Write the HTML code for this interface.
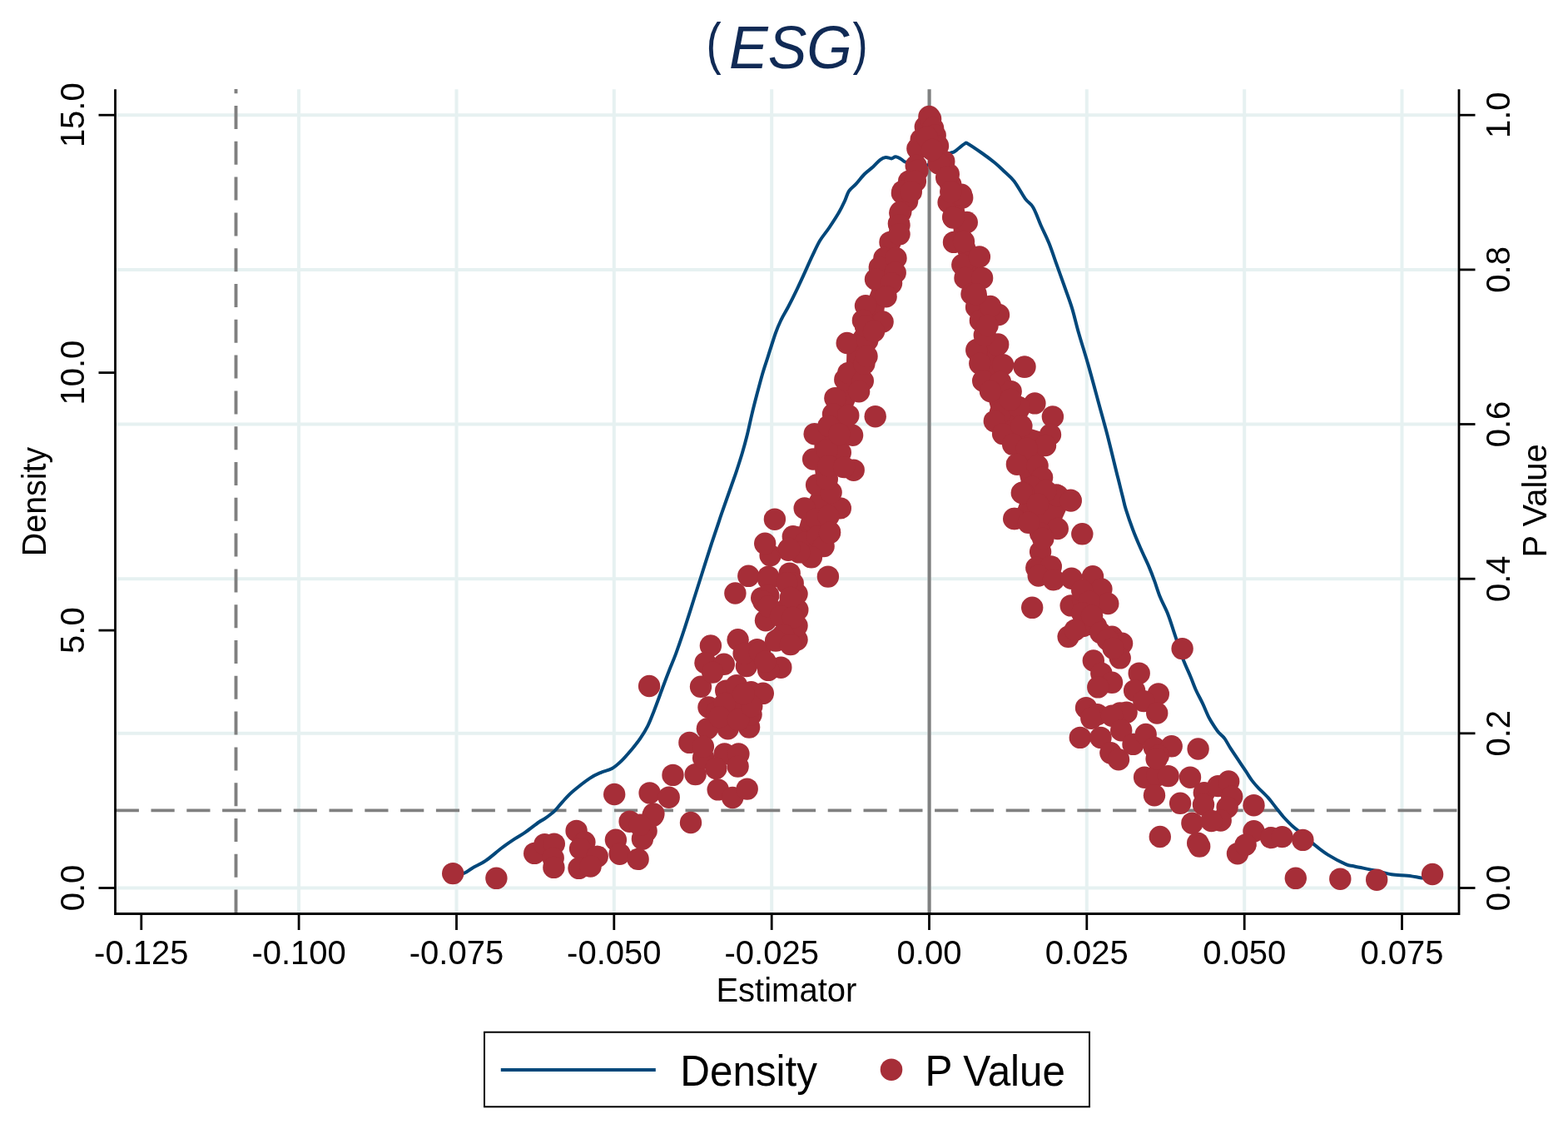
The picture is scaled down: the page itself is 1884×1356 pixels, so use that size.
<!DOCTYPE html>
<html><head><meta charset="utf-8"><title>ESG</title>
<style>html,body{margin:0;padding:0;background:#fff;}svg{display:block;}</style></head>
<body><svg width="1884" height="1356" viewBox="0 0 1884 1356">
<rect x="0" y="0" width="1884" height="1356" fill="#ffffff"/>
<g stroke="#e6f1f1" stroke-width="4"><line x1="140" y1="1066.5" x2="1751.5" y2="1066.5"/><line x1="140" y1="880.8" x2="1751.5" y2="880.8"/><line x1="140" y1="695.2" x2="1751.5" y2="695.2"/><line x1="140" y1="509.5" x2="1751.5" y2="509.5"/><line x1="140" y1="323.9" x2="1751.5" y2="323.9"/><line x1="140" y1="138.2" x2="1751.5" y2="138.2"/><line x1="359.1" y1="107.2" x2="359.1" y2="1096"/><line x1="548.5" y1="107.2" x2="548.5" y2="1096"/><line x1="737.8" y1="107.2" x2="737.8" y2="1096"/><line x1="927.2" y1="107.2" x2="927.2" y2="1096"/><line x1="1116.5" y1="107.2" x2="1116.5" y2="1096"/><line x1="1305.8" y1="107.2" x2="1305.8" y2="1096"/><line x1="1495.2" y1="107.2" x2="1495.2" y2="1096"/><line x1="1684.5" y1="107.2" x2="1684.5" y2="1096"/></g>
<line x1="283.5" y1="107.1" x2="283.5" y2="1096" stroke="#808080" stroke-width="3.9" stroke-dasharray="28 14.8" stroke-dashoffset="22.9"/>
<line x1="138.7" y1="973.4" x2="1752" y2="973.4" stroke="#808080" stroke-width="3.8" stroke-dasharray="28.2 14.6"/>
<line x1="1116.6" y1="107.2" x2="1116.6" y2="1096" stroke="#808080" stroke-width="4.1"/>
<path d="M544.0 1049.0 C546.2 1049.0 553.4 1049.9 557.4 1048.8 C561.4 1047.7 563.4 1044.9 567.8 1042.4 C572.2 1039.9 577.9 1037.7 583.7 1033.7 C589.5 1029.7 597.0 1022.9 602.8 1018.5 C608.6 1014.1 613.9 1010.6 618.7 1007.4 C623.5 1004.2 626.7 1002.7 631.5 999.4 C636.3 996.1 643.4 990.3 647.4 987.5 C651.4 984.7 652.2 985.0 655.4 982.7 C658.6 980.4 663.0 977.2 666.5 973.9 C670.0 970.6 672.4 966.8 676.1 962.8 C679.8 958.8 683.3 954.8 688.8 950.1 C694.3 945.4 703.3 938.3 708.9 934.6 C714.5 930.9 717.7 929.7 722.1 927.8 C726.5 925.9 731.2 925.4 735.4 923.0 C739.6 920.6 743.3 917.2 747.2 913.4 C751.1 909.6 755.3 904.6 759.0 900.2 C762.7 895.8 766.1 891.6 769.3 886.9 C772.5 882.2 775.5 877.5 778.2 872.1 C780.9 866.7 782.9 861.3 785.6 854.4 C788.3 847.5 791.5 838.7 794.4 830.8 C797.3 822.9 800.3 814.8 803.3 807.2 C806.2 799.6 808.8 794.1 812.1 785.1 C815.4 776.1 819.5 764.1 823.0 753.4 C826.5 742.7 829.9 731.8 833.3 721.0 C836.7 710.2 840.2 699.3 843.6 688.5 C847.0 677.7 850.7 665.9 853.9 656.1 C857.1 646.3 860.6 636.0 862.8 629.5 C865.0 623.0 864.3 624.6 866.9 617.1 C869.5 609.6 875.4 593.1 878.4 584.5 C881.4 575.9 882.9 572.0 885.1 565.3 C887.3 558.6 889.7 551.2 891.8 544.2 C893.9 537.2 895.7 530.8 897.6 523.1 C899.5 515.4 901.4 506.1 903.3 498.1 C905.2 490.1 907.0 483.1 909.1 475.1 C911.2 467.1 913.6 457.9 915.8 450.2 C918.0 442.5 919.8 437.5 922.5 429.1 C925.2 420.7 929.2 407.6 931.9 400.0 C934.6 392.4 936.2 389.1 938.7 383.8 C941.2 378.6 944.0 374.4 947.1 368.5 C950.2 362.6 953.9 355.2 957.3 348.1 C960.7 341.0 964.4 332.9 967.5 326.1 C970.6 319.3 973.0 313.6 976.0 307.4 C979.0 301.2 981.9 294.4 985.3 288.8 C988.7 283.2 992.5 279.2 996.3 273.5 C1000.1 267.8 1005.1 260.2 1008.2 254.8 C1011.3 249.4 1013.0 245.5 1015.0 241.3 C1017.0 237.1 1017.8 232.8 1020.1 229.4 C1022.4 226.0 1025.5 224.3 1028.6 220.9 C1031.7 217.5 1035.4 212.4 1038.8 209.0 C1042.2 205.6 1045.8 203.3 1048.9 200.5 C1052.0 197.7 1054.9 194.0 1057.4 192.1 C1060.0 190.2 1061.9 189.3 1064.2 189.0 C1066.5 188.7 1069.0 190.5 1071.0 190.4 C1073.0 190.3 1074.1 188.2 1076.1 188.3 C1078.1 188.4 1080.9 190.1 1082.9 191.2 C1084.9 192.2 1085.0 193.6 1088.0 194.6 C1091.0 195.6 1096.5 196.4 1101.0 197.0 C1105.5 197.6 1110.2 199.1 1114.7 198.1 C1119.2 197.1 1123.5 193.4 1128.0 191.0 C1132.5 188.6 1138.7 185.2 1141.9 183.7 C1145.1 182.2 1144.2 183.8 1147.0 182.0 C1149.8 180.2 1156.2 174.2 1158.9 172.7 C1161.6 171.1 1159.6 170.8 1163.1 172.7 C1166.6 174.6 1174.6 180.2 1180.0 184.0 C1185.4 187.8 1190.8 191.8 1195.3 195.5 C1199.8 199.2 1202.9 202.3 1206.8 206.0 C1210.7 209.7 1214.2 212.1 1218.4 217.5 C1222.6 222.9 1228.0 233.3 1231.8 238.6 C1235.6 243.9 1238.2 243.8 1241.4 249.2 C1244.6 254.6 1247.7 264.0 1250.9 271.2 C1254.1 278.4 1257.3 284.3 1260.5 292.3 C1263.7 300.3 1266.9 310.2 1270.1 319.2 C1273.3 328.1 1276.7 337.4 1279.7 346.0 C1282.7 354.6 1285.6 361.9 1288.3 370.9 C1291.0 379.9 1292.9 388.8 1296.1 400.0 C1299.3 411.2 1303.8 425.0 1307.6 438.4 C1311.4 451.8 1315.3 466.4 1319.1 480.5 C1322.9 494.6 1326.9 508.6 1330.6 522.7 C1334.2 536.8 1338.7 555.6 1341.0 565.0 C1343.3 574.4 1343.3 574.0 1344.6 579.2 C1345.9 584.5 1347.5 591.1 1348.9 596.5 C1350.3 601.9 1350.7 605.1 1352.8 611.8 C1354.9 618.5 1358.4 628.7 1361.4 636.7 C1364.4 644.7 1367.8 652.4 1371.0 659.8 C1374.2 667.2 1377.9 674.5 1380.6 680.9 C1383.3 687.3 1385.1 692.0 1387.3 698.1 C1389.5 704.2 1391.3 710.6 1394.0 717.3 C1396.7 724.0 1400.7 731.0 1403.6 738.4 C1406.5 745.8 1408.4 752.8 1411.3 761.4 C1414.2 770.0 1417.7 781.7 1420.9 790.2 C1424.1 798.7 1427.7 806.1 1430.4 812.5 C1433.1 818.9 1434.5 823.3 1436.9 828.7 C1439.3 834.1 1442.3 839.2 1445.0 844.9 C1447.7 850.6 1450.4 857.7 1453.1 862.8 C1455.8 867.9 1459.3 872.8 1461.2 875.7 C1463.1 878.6 1462.8 878.1 1464.5 880.0 C1466.2 881.9 1469.2 884.0 1471.5 887.1 C1473.8 890.2 1475.8 894.6 1478.6 898.9 C1481.4 903.2 1484.9 908.4 1488.1 913.1 C1491.2 917.8 1494.8 923.1 1497.5 927.2 C1500.2 931.3 1502.2 934.8 1504.6 937.9 C1507.0 941.0 1508.5 942.8 1511.7 946.1 C1514.9 949.4 1520.0 954.0 1523.5 957.9 C1527.0 961.8 1529.8 965.8 1532.9 969.7 C1536.1 973.6 1539.1 977.8 1542.4 981.5 C1545.8 985.2 1549.3 988.9 1553.0 992.2 C1556.7 995.6 1560.7 998.1 1564.8 1001.6 C1568.9 1005.1 1572.7 1009.2 1577.8 1013.4 C1582.9 1017.6 1588.9 1022.5 1595.5 1026.6 C1602.1 1030.7 1611.9 1035.8 1617.2 1038.1 C1622.5 1040.4 1621.5 1039.2 1627.4 1040.5 C1633.4 1041.8 1645.5 1044.1 1652.9 1045.7 C1660.3 1047.3 1665.6 1049.3 1672.0 1050.3 C1678.4 1051.3 1684.9 1051.1 1691.1 1051.8 C1697.2 1052.5 1705.9 1054.1 1708.9 1054.6" fill="none" stroke="#00477a" stroke-width="4" stroke-linejoin="round" stroke-linecap="round"/>
<g fill="#a62e38"><polygon points="1116.4,140.0 1111.8,152.3 1106.7,167.6 1102.4,178.6 1100.7,199.0 1092.2,217.7 1084.6,229.6 1082.3,254.2 1079.9,268.6 1069.5,290.9 1062.4,310.0 1056.8,321.1 1052.0,335.5 1040.0,367.3 1036.9,384.9 1017.7,412.0 1016.6,447.9 1003.1,468.6 1003.1,476.6 1001.5,497.3 979.2,521.2 977.6,551.5 981.2,581.8 966.4,610.4 958.5,639.1 996.5,639.1 1009.3,610.4 997.3,585.0 1010.1,543.5 1023.6,522.8 1020.4,498.9 1032.4,470.2 1037.2,457.5 1041.1,432.0 1041.5,427.9 1042.3,408.8 1060.6,386.5 1064.6,356.2 1071.0,340.3 1075.7,327.5 1076.5,310.0 1080.5,281.3 1080.5,270.2 1081.3,255.8 1090.1,241.5 1094.1,227.2 1099.9,217.7 1102.4,204.9 1110.0,185.0"/><polygon points="1116.4,140.0 1118.1,142.9 1121.1,154.0 1123.7,162.5 1127.0,175.2 1134.3,193.9 1139.8,209.2 1142.3,221.9 1155.1,233.8 1156.2,237.5 1161.8,267.0 1176.9,308.4 1180.1,333.9 1192.0,375.3 1199.2,413.5 1205.1,438.2 1214.7,470.1 1243.4,484.4 1227.4,511.5 1262.0,522.0 1255.3,532.2 1252.1,573.6 1268.9,594.4 1286.4,600.7 1270.8,635.0 1218.2,623.0 1229.8,591.2 1221.9,557.7 1217.1,533.8 1205.1,521.1 1194.8,505.9 1181.2,457.4 1177.3,436.6 1173.3,420.7 1177.9,384.9 1173.1,368.9 1167.5,353.0 1159.5,333.9 1156.3,318.0 1146.0,290.9 1145.2,260.6 1139.6,243.1 1142.3,230.4 1137.2,213.4 1127.9,196.4 1120.0,185.0"/><circle cx="544.2" cy="1049.1" r="13.2"/><circle cx="596.4" cy="1054.8" r="13.2"/><circle cx="642.2" cy="1024.9" r="13.2"/><circle cx="654.4" cy="1014.1" r="13.2"/><circle cx="665.8" cy="1013.6" r="13.2"/><circle cx="664.7" cy="1030.6" r="13.2"/><circle cx="665.4" cy="1041.9" r="13.2"/><circle cx="692.6" cy="997.9" r="13.2"/><circle cx="702.4" cy="1011.5" r="13.2"/><circle cx="697.1" cy="1019.2" r="13.2"/><circle cx="717.7" cy="1028.7" r="13.2"/><circle cx="695.5" cy="1042.8" r="13.2"/><circle cx="709.6" cy="1040.5" r="13.2"/><circle cx="739.9" cy="1008.8" r="13.2"/><circle cx="744.6" cy="1025.7" r="13.2"/><circle cx="766.6" cy="1031.9" r="13.2"/><circle cx="756.6" cy="986.7" r="13.2"/><circle cx="776.6" cy="998.1" r="13.2"/><circle cx="771.9" cy="1007.7" r="13.2"/><circle cx="784.3" cy="980.0" r="13.2"/><circle cx="738.2" cy="954.0" r="13.2"/><circle cx="808.5" cy="930.9" r="13.2"/><circle cx="828.4" cy="891.9" r="13.2"/><circle cx="835.6" cy="930.1" r="13.2"/><circle cx="830.0" cy="988.0" r="13.2"/><circle cx="780.6" cy="952.4" r="13.2"/><circle cx="803.7" cy="957.7" r="13.2"/><circle cx="785.4" cy="977.4" r="13.2"/><circle cx="849.9" cy="875.2" r="13.2"/><circle cx="874.6" cy="875.2" r="13.2"/><circle cx="900.1" cy="873.6" r="13.2"/><circle cx="845.1" cy="910.2" r="13.2"/><circle cx="870.6" cy="905.4" r="13.2"/><circle cx="887.4" cy="905.4" r="13.2"/><circle cx="860.3" cy="923.0" r="13.2"/><circle cx="886.6" cy="920.6" r="13.2"/><circle cx="862.7" cy="948.4" r="13.2"/><circle cx="880.2" cy="958.0" r="13.2"/><circle cx="897.7" cy="947.6" r="13.2"/><circle cx="780.1" cy="824.0" r="13.2"/><circle cx="842.0" cy="824.8" r="13.2"/><circle cx="853.9" cy="775.5" r="13.2"/><circle cx="847.5" cy="796.2" r="13.2"/><circle cx="869.8" cy="797.8" r="13.2"/><circle cx="886.6" cy="768.3" r="13.2"/><circle cx="896.9" cy="800.1" r="13.2"/><circle cx="909.7" cy="780.2" r="13.2"/><circle cx="936.7" cy="766.7" r="13.2"/><circle cx="938.3" cy="801.7" r="13.2"/><circle cx="923.2" cy="804.9" r="13.2"/><circle cx="957.5" cy="768.3" r="13.2"/><circle cx="957.5" cy="751.6" r="13.2"/><circle cx="958.3" cy="732.4" r="13.2"/><circle cx="957.5" cy="713.3" r="13.2"/><circle cx="920.0" cy="745.2" r="13.2"/><circle cx="915.2" cy="718.1" r="13.2"/><circle cx="945.5" cy="730.8" r="13.2"/><circle cx="923.2" cy="692.6" r="13.2"/><circle cx="899.3" cy="691.8" r="13.2"/><circle cx="883.4" cy="712.5" r="13.2"/><circle cx="948.7" cy="688.6" r="13.2"/><circle cx="994.9" cy="692.6" r="13.2"/><circle cx="925.6" cy="667.1" r="13.2"/><circle cx="919.2" cy="652.8" r="13.2"/><circle cx="947.1" cy="660.7" r="13.2"/><circle cx="974.2" cy="668.7" r="13.2"/><circle cx="986.9" cy="654.4" r="13.2"/><circle cx="952.7" cy="700.6" r="13.2"/><circle cx="872.2" cy="829.6" r="13.2"/><circle cx="885.0" cy="823.2" r="13.2"/><circle cx="902.5" cy="831.2" r="13.2"/><circle cx="916.8" cy="832.8" r="13.2"/><circle cx="851.5" cy="849.5" r="13.2"/><circle cx="861.1" cy="855.1" r="13.2"/><circle cx="888.2" cy="853.5" r="13.2"/><circle cx="902.5" cy="858.3" r="13.2"/><circle cx="1051.7" cy="500.2" r="13.2"/><circle cx="930.9" cy="623.7" r="13.2"/><circle cx="1025.7" cy="564.7" r="13.2"/><circle cx="1009.8" cy="610.4" r="13.2"/><circle cx="966.7" cy="610.4" r="13.2"/><circle cx="978.7" cy="521.2" r="13.2"/><circle cx="977.1" cy="551.5" r="13.2"/><circle cx="981.1" cy="582.5" r="13.2"/><circle cx="1024.1" cy="522.8" r="13.2"/><circle cx="1003.4" cy="478.2" r="13.2"/><circle cx="1001.0" cy="497.3" r="13.2"/><circle cx="1019.3" cy="498.9" r="13.2"/><circle cx="1015.3" cy="455.9" r="13.2"/><circle cx="1019.3" cy="447.9" r="13.2"/><circle cx="1036.8" cy="457.5" r="13.2"/><circle cx="1032.1" cy="470.2" r="13.2"/><circle cx="998.6" cy="591.3" r="13.2"/><circle cx="997.0" cy="639.1" r="13.2"/><circle cx="958.8" cy="645.5" r="13.2"/><circle cx="981.1" cy="623.2" r="13.2"/><circle cx="995.4" cy="620.0" r="13.2"/><circle cx="993.8" cy="575.4" r="13.2"/><circle cx="1009.8" cy="543.5" r="13.2"/><circle cx="993.8" cy="540.3" r="13.2"/><circle cx="995.4" cy="511.7" r="13.2"/><circle cx="1008.2" cy="521.2" r="13.2"/><circle cx="995.4" cy="559.4" r="13.2"/><circle cx="1038.4" cy="436.8" r="13.2"/><circle cx="1083.9" cy="231.9" r="13.2"/><circle cx="1082.3" cy="254.2" r="13.2"/><circle cx="1079.9" cy="268.6" r="13.2"/><circle cx="1069.5" cy="290.9" r="13.2"/><circle cx="1062.4" cy="310.0" r="13.2"/><circle cx="1056.8" cy="321.1" r="13.2"/><circle cx="1052.0" cy="335.5" r="13.2"/><circle cx="1040.0" cy="367.3" r="13.2"/><circle cx="1036.9" cy="384.9" r="13.2"/><circle cx="1017.7" cy="412.0" r="13.2"/><circle cx="1094.1" cy="227.2" r="13.2"/><circle cx="1090.1" cy="241.5" r="13.2"/><circle cx="1081.3" cy="255.8" r="13.2"/><circle cx="1080.5" cy="270.2" r="13.2"/><circle cx="1080.5" cy="281.3" r="13.2"/><circle cx="1076.5" cy="310.0" r="13.2"/><circle cx="1075.7" cy="327.5" r="13.2"/><circle cx="1071.0" cy="340.3" r="13.2"/><circle cx="1064.6" cy="356.2" r="13.2"/><circle cx="1060.6" cy="386.5" r="13.2"/><circle cx="1042.3" cy="408.8" r="13.2"/><circle cx="1041.5" cy="427.9" r="13.2"/><circle cx="1139.6" cy="243.1" r="13.2"/><circle cx="1145.2" cy="260.6" r="13.2"/><circle cx="1146.0" cy="290.9" r="13.2"/><circle cx="1156.3" cy="318.0" r="13.2"/><circle cx="1159.5" cy="333.9" r="13.2"/><circle cx="1167.5" cy="353.0" r="13.2"/><circle cx="1173.1" cy="368.9" r="13.2"/><circle cx="1177.9" cy="384.9" r="13.2"/><circle cx="1173.9" cy="419.9" r="13.2"/><circle cx="1156.2" cy="237.5" r="13.2"/><circle cx="1161.8" cy="267.0" r="13.2"/><circle cx="1176.9" cy="308.4" r="13.2"/><circle cx="1180.1" cy="333.9" r="13.2"/><circle cx="1200.0" cy="378.0" r="13.2"/><circle cx="1199.2" cy="413.5" r="13.2"/><circle cx="1231.5" cy="440.6" r="13.2"/><circle cx="1190.0" cy="368.0" r="13.2"/><circle cx="1116.4" cy="140.0" r="13.2"/><circle cx="1111.8" cy="152.3" r="13.2"/><circle cx="1106.7" cy="167.6" r="13.2"/><circle cx="1102.4" cy="178.6" r="13.2"/><circle cx="1100.7" cy="199.0" r="13.2"/><circle cx="1092.2" cy="217.7" r="13.2"/><circle cx="1084.6" cy="229.6" r="13.2"/><circle cx="1118.1" cy="142.9" r="13.2"/><circle cx="1121.1" cy="154.0" r="13.2"/><circle cx="1123.7" cy="162.5" r="13.2"/><circle cx="1127.0" cy="175.2" r="13.2"/><circle cx="1134.3" cy="193.9" r="13.2"/><circle cx="1139.8" cy="209.2" r="13.2"/><circle cx="1142.3" cy="221.9" r="13.2"/><circle cx="1155.1" cy="233.8" r="13.2"/><circle cx="1102.4" cy="204.9" r="13.2"/><circle cx="1099.9" cy="217.7" r="13.2"/><circle cx="1094.8" cy="230.4" r="13.2"/><circle cx="1127.9" cy="196.4" r="13.2"/><circle cx="1137.2" cy="213.4" r="13.2"/><circle cx="1142.3" cy="230.4" r="13.2"/><circle cx="1114.0" cy="165.0" r="13.2"/><circle cx="1120.0" cy="180.0" r="13.2"/><circle cx="1173.3" cy="420.7" r="13.2"/><circle cx="1198.8" cy="414.3" r="13.2"/><circle cx="1182.8" cy="402.4" r="13.2"/><circle cx="1177.3" cy="436.6" r="13.2"/><circle cx="1205.1" cy="438.2" r="13.2"/><circle cx="1230.6" cy="440.6" r="13.2"/><circle cx="1181.2" cy="457.4" r="13.2"/><circle cx="1202.0" cy="458.9" r="13.2"/><circle cx="1214.7" cy="470.1" r="13.2"/><circle cx="1243.4" cy="484.4" r="13.2"/><circle cx="1264.9" cy="500.4" r="13.2"/><circle cx="1202.0" cy="495.6" r="13.2"/><circle cx="1194.8" cy="505.9" r="13.2"/><circle cx="1224.3" cy="489.2" r="13.2"/><circle cx="1205.1" cy="521.1" r="13.2"/><circle cx="1227.4" cy="511.5" r="13.2"/><circle cx="1262.0" cy="522.0" r="13.2"/><circle cx="1256.0" cy="535.0" r="13.2"/><circle cx="1217.1" cy="533.8" r="13.2"/><circle cx="1233.8" cy="538.6" r="13.2"/><circle cx="1221.9" cy="557.7" r="13.2"/><circle cx="1246.6" cy="559.3" r="13.2"/><circle cx="1252.1" cy="573.6" r="13.2"/><circle cx="1229.8" cy="591.2" r="13.2"/><circle cx="1268.9" cy="594.4" r="13.2"/><circle cx="1286.4" cy="600.7" r="13.2"/><circle cx="1219.5" cy="623.0" r="13.2"/><circle cx="1240.0" cy="585.0" r="13.2"/><circle cx="1214.0" cy="480.0" r="13.2"/><circle cx="1190.0" cy="470.0" r="13.2"/><circle cx="1218.2" cy="623.0" r="13.2"/><circle cx="1229.4" cy="592.0" r="13.2"/><circle cx="1270.8" cy="595.1" r="13.2"/><circle cx="1286.7" cy="601.5" r="13.2"/><circle cx="1270.8" cy="635.0" r="13.2"/><circle cx="1250.1" cy="640.5" r="13.2"/><circle cx="1300.3" cy="641.3" r="13.2"/><circle cx="1250.1" cy="662.8" r="13.2"/><circle cx="1245.3" cy="682.0" r="13.2"/><circle cx="1262.8" cy="680.4" r="13.2"/><circle cx="1247.7" cy="691.5" r="13.2"/><circle cx="1266.0" cy="696.3" r="13.2"/><circle cx="1287.5" cy="694.7" r="13.2"/><circle cx="1313.0" cy="692.3" r="13.2"/><circle cx="1323.4" cy="707.5" r="13.2"/><circle cx="1331.3" cy="725.0" r="13.2"/><circle cx="1286.7" cy="727.4" r="13.2"/><circle cx="1301.1" cy="720.2" r="13.2"/><circle cx="1240.2" cy="729.8" r="13.2"/><circle cx="1317.0" cy="752.1" r="13.2"/><circle cx="1283.6" cy="764.8" r="13.2"/><circle cx="1301.1" cy="752.1" r="13.2"/><circle cx="1336.1" cy="764.8" r="13.2"/><circle cx="1348.1" cy="772.8" r="13.2"/><circle cx="1345.7" cy="790.3" r="13.2"/><circle cx="1313.8" cy="793.5" r="13.2"/><circle cx="1420.6" cy="779.1" r="13.2"/><circle cx="1227.8" cy="592.0" r="13.2"/><circle cx="1256.5" cy="589.6" r="13.2"/><circle cx="1246.9" cy="605.5" r="13.2"/><circle cx="1235.8" cy="627.8" r="13.2"/><circle cx="1253.3" cy="646.9" r="13.2"/><circle cx="1323.3" cy="808.7" r="13.2"/><circle cx="1336.0" cy="819.8" r="13.2"/><circle cx="1319.3" cy="825.4" r="13.2"/><circle cx="1368.7" cy="808.7" r="13.2"/><circle cx="1363.1" cy="829.4" r="13.2"/><circle cx="1391.8" cy="833.4" r="13.2"/><circle cx="1374.3" cy="842.1" r="13.2"/><circle cx="1390.2" cy="856.5" r="13.2"/><circle cx="1305.0" cy="850.1" r="13.2"/><circle cx="1318.5" cy="858.1" r="13.2"/><circle cx="1311.3" cy="862.8" r="13.2"/><circle cx="1345.6" cy="856.5" r="13.2"/><circle cx="1353.6" cy="855.7" r="13.2"/><circle cx="1336.0" cy="859.7" r="13.2"/><circle cx="1347.2" cy="877.2" r="13.2"/><circle cx="1297.8" cy="885.9" r="13.2"/><circle cx="1322.5" cy="885.9" r="13.2"/><circle cx="1334.4" cy="904.3" r="13.2"/><circle cx="1344.0" cy="912.2" r="13.2"/><circle cx="1361.5" cy="893.9" r="13.2"/><circle cx="1376.7" cy="882.0" r="13.2"/><circle cx="1387.0" cy="897.9" r="13.2"/><circle cx="1407.7" cy="896.3" r="13.2"/><circle cx="1391.8" cy="907.4" r="13.2"/><circle cx="1439.6" cy="899.5" r="13.2"/><circle cx="1375.1" cy="933.7" r="13.2"/><circle cx="1390.2" cy="931.3" r="13.2"/><circle cx="1403.7" cy="932.1" r="13.2"/><circle cx="1430.0" cy="933.7" r="13.2"/><circle cx="1387.0" cy="955.2" r="13.2"/><circle cx="1418.1" cy="964.8" r="13.2"/><circle cx="1446.8" cy="952.1" r="13.2"/><circle cx="1463.5" cy="944.1" r="13.2"/><circle cx="1476.2" cy="938.5" r="13.2"/><circle cx="1480.2" cy="956.8" r="13.2"/><circle cx="1446.0" cy="966.4" r="13.2"/><circle cx="1474.6" cy="969.6" r="13.2"/><circle cx="1506.5" cy="967.2" r="13.2"/><circle cx="1432.4" cy="988.7" r="13.2"/><circle cx="1466.7" cy="985.5" r="13.2"/><circle cx="1506.5" cy="998.3" r="13.2"/><circle cx="1389.6" cy="911.5" r="13.2"/><circle cx="1455.5" cy="986.0" r="13.2"/><circle cx="1439.2" cy="1012.7" r="13.2"/><circle cx="1441.2" cy="1016.6" r="13.2"/><circle cx="1487.0" cy="1025.2" r="13.2"/><circle cx="1496.6" cy="1014.7" r="13.2"/><circle cx="1527.1" cy="1006.1" r="13.2"/><circle cx="1540.5" cy="1005.1" r="13.2"/><circle cx="1565.4" cy="1008.9" r="13.2"/><circle cx="1556.8" cy="1054.8" r="13.2"/><circle cx="1610.3" cy="1055.7" r="13.2"/><circle cx="1654.2" cy="1056.7" r="13.2"/><circle cx="1721.1" cy="1050.0" r="13.2"/><circle cx="768.8" cy="990.8" r="13.2"/><circle cx="870.9" cy="844.9" r="13.2"/><circle cx="864.4" cy="861.1" r="13.2"/><circle cx="887.1" cy="864.4" r="13.2"/><circle cx="903.3" cy="848.1" r="13.2"/><circle cx="893.6" cy="784.9" r="13.2"/><circle cx="913.0" cy="783.2" r="13.2"/><circle cx="919.5" cy="794.6" r="13.2"/><circle cx="856.2" cy="807.6" r="13.2"/><circle cx="893.6" cy="833.5" r="13.2"/><circle cx="844.9" cy="896.8" r="13.2"/><circle cx="952.8" cy="644.3" r="13.2"/><circle cx="967.5" cy="651.6" r="13.2"/><circle cx="982.3" cy="644.3" r="13.2"/><circle cx="989.6" cy="656.1" r="13.2"/><circle cx="974.9" cy="669.3" r="13.2"/><circle cx="960.1" cy="663.4" r="13.2"/><circle cx="948.3" cy="659.0" r="13.2"/><circle cx="997.0" cy="639.8" r="13.2"/><circle cx="923.3" cy="695.9" r="13.2"/><circle cx="923.3" cy="715.1" r="13.2"/><circle cx="945.4" cy="700.3" r="13.2"/><circle cx="949.8" cy="718.0" r="13.2"/><circle cx="917.4" cy="722.4" r="13.2"/><circle cx="923.3" cy="728.3" r="13.2"/><circle cx="938.0" cy="740.1" r="13.2"/><circle cx="952.8" cy="741.6" r="13.2"/><circle cx="941.0" cy="762.3" r="13.2"/><circle cx="932.1" cy="769.6" r="13.2"/><circle cx="949.8" cy="774.1" r="13.2"/><circle cx="1158.0" cy="290.0" r="13.2"/><circle cx="1172.6" cy="353.2" r="13.2"/><circle cx="1186.5" cy="391.0" r="13.2"/><circle cx="1145.5" cy="261.6" r="13.2"/><circle cx="1300.2" cy="709.1" r="13.2"/><circle cx="1308.7" cy="722.6" r="13.2"/><circle cx="1300.2" cy="736.2" r="13.2"/><circle cx="1312.1" cy="739.6" r="13.2"/><circle cx="1291.8" cy="756.6" r="13.2"/><circle cx="1322.3" cy="760.0" r="13.2"/><circle cx="1330.8" cy="768.4" r="13.2"/><circle cx="1337.6" cy="778.6" r="13.2"/><circle cx="1393.8" cy="1005.0" r="13.2"/><circle cx="1040.0" cy="392.0" r="13.2"/><circle cx="1050.0" cy="398.0" r="13.2"/><circle cx="1014.1" cy="561.1" r="13.2"/></g>
<path d="M138.5 107.2 V1097.5 H1753 V107.2" fill="none" stroke="#000" stroke-width="2.8" stroke-linejoin="miter"/>
<g stroke="#000" stroke-width="2.8"><line x1="169.8" y1="1097" x2="169.8" y2="1117"/><line x1="359.1" y1="1097" x2="359.1" y2="1117"/><line x1="548.5" y1="1097" x2="548.5" y2="1117"/><line x1="737.8" y1="1097" x2="737.8" y2="1117"/><line x1="927.2" y1="1097" x2="927.2" y2="1117"/><line x1="1116.5" y1="1097" x2="1116.5" y2="1117"/><line x1="1305.8" y1="1097" x2="1305.8" y2="1117"/><line x1="1495.2" y1="1097" x2="1495.2" y2="1117"/><line x1="1684.5" y1="1097" x2="1684.5" y2="1117"/><line x1="118.5" y1="1066.5" x2="139" y2="1066.5"/><line x1="118.5" y1="757.1" x2="139" y2="757.1"/><line x1="118.5" y1="447.6" x2="139" y2="447.6"/><line x1="118.5" y1="138.2" x2="139" y2="138.2"/><line x1="1752.5" y1="1066.5" x2="1772.5" y2="1066.5"/><line x1="1752.5" y1="880.8" x2="1772.5" y2="880.8"/><line x1="1752.5" y1="695.2" x2="1772.5" y2="695.2"/><line x1="1752.5" y1="509.5" x2="1772.5" y2="509.5"/><line x1="1752.5" y1="323.9" x2="1772.5" y2="323.9"/><line x1="1752.5" y1="138.2" x2="1772.5" y2="138.2"/></g>
<g font-family="'Liberation Sans', Arial, sans-serif" font-size="40" fill="#000"><text x="169.8" y="1157.5" text-anchor="middle">-0.125</text><text x="359.1" y="1157.5" text-anchor="middle">-0.100</text><text x="548.5" y="1157.5" text-anchor="middle">-0.075</text><text x="737.8" y="1157.5" text-anchor="middle">-0.050</text><text x="927.2" y="1157.5" text-anchor="middle">-0.025</text><text x="1116.5" y="1157.5" text-anchor="middle">0.00</text><text x="1305.8" y="1157.5" text-anchor="middle">0.025</text><text x="1495.2" y="1157.5" text-anchor="middle">0.050</text><text x="1684.5" y="1157.5" text-anchor="middle">0.075</text><text transform="translate(100.5 1066.5) rotate(-90)" text-anchor="middle">0.0</text><text transform="translate(100.5 757.1) rotate(-90)" text-anchor="middle">5.0</text><text transform="translate(100.5 447.6) rotate(-90)" text-anchor="middle">10.0</text><text transform="translate(100.5 138.2) rotate(-90)" text-anchor="middle">15.0</text><text transform="translate(1813.8 1066.5) rotate(-90)" text-anchor="middle">0.0</text><text transform="translate(1813.8 880.8) rotate(-90)" text-anchor="middle">0.2</text><text transform="translate(1813.8 695.2) rotate(-90)" text-anchor="middle">0.4</text><text transform="translate(1813.8 509.5) rotate(-90)" text-anchor="middle">0.6</text><text transform="translate(1813.8 323.9) rotate(-90)" text-anchor="middle">0.8</text><text transform="translate(1813.8 138.2) rotate(-90)" text-anchor="middle">1.0</text><text transform="translate(54.9 668.2) rotate(-90) scale(1 1.03)" font-size="39.4">Density</text><text transform="translate(1857.6 601.4) rotate(-90)" text-anchor="middle">P Value</text><text x="944.9" y="1202.6" text-anchor="middle">Estimator</text></g>
<g fill="#102a55" font-family="'Liberation Sans', Arial, sans-serif" font-size="70"><text transform="translate(848.6 75.6) scale(0.78 0.992)">(</text><text transform="translate(876 82.3) scale(1 1.04)" font-style="italic">ESG</text><text transform="translate(1024.6 75.6) scale(0.78 0.992)">)</text></g>
<rect x="582" y="1239.7" width="727" height="89.6" fill="none" stroke="#000" stroke-width="2"/><line x1="601.8" y1="1285" x2="787.8" y2="1285" stroke="#00477a" stroke-width="4"/><circle cx="1071" cy="1284.7" r="13.3" fill="#a62e38"/><g font-family="'Liberation Sans', Arial, sans-serif" font-size="49.4" fill="#000"><text transform="translate(817.3 1304) scale(1 1.04)">Density</text><text transform="translate(1111.6 1304) scale(1 1.04)">P Value</text></g>
</svg></body></html>
